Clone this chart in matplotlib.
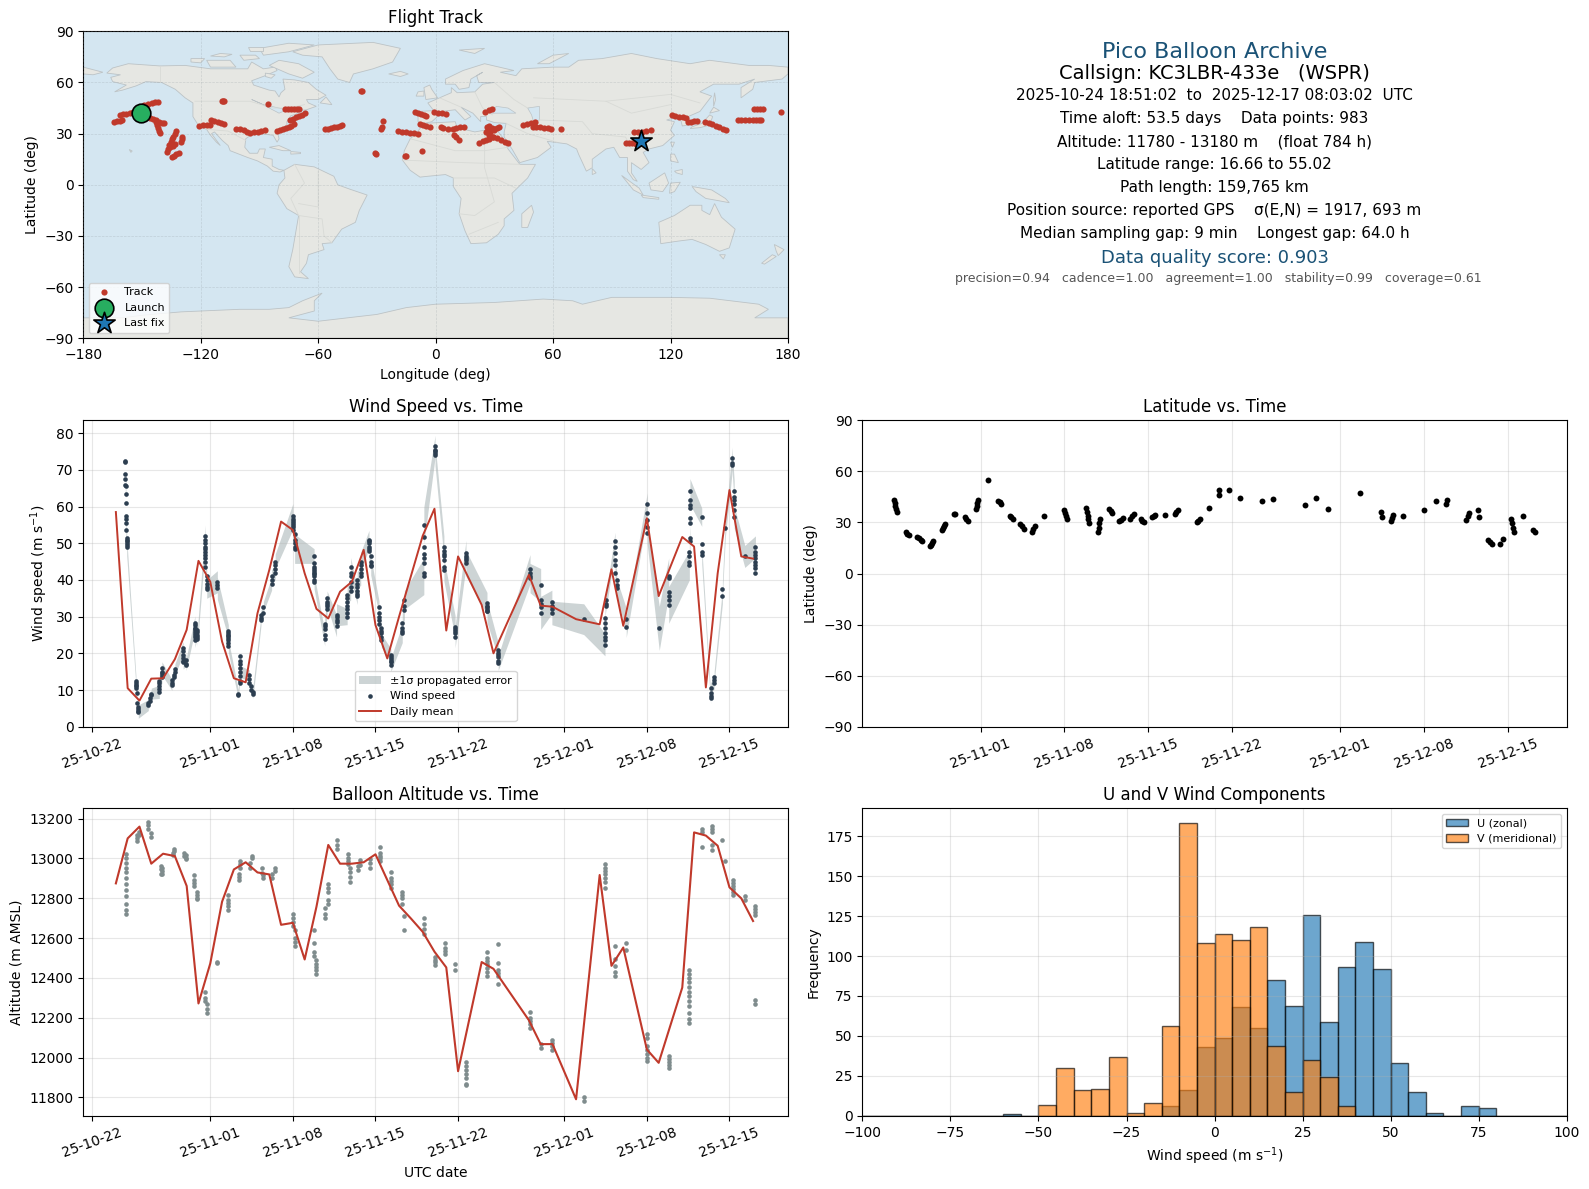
import matplotlib
matplotlib.use("Agg")
import matplotlib.pyplot as plt
import matplotlib.dates as mdates
import numpy as np

# all times are days after 2025-10-22
tick_dates = ["2025-10-22", "2025-11-01", "2025-11-08", "2025-11-15", "2025-11-22", "2025-12-01", "2025-12-08", "2025-12-15"]

# daily means
mean_days = [2, 3, 4, 5, 6, 7, 8, 9, 10, 11, 12, 13, 14, 15, 16, 17, 18, 19, 20, 21, 22, 23, 24, 25, 26, 27, 28, 29, 30, 31,
             33, 34, 37, 38, 39, 41, 43, 44, 45, 47, 48, 50, 51, 52, 53, 54, 55, 56]
mean_wind = [58.5, 10.5, 7.1, 13.1, 13.2, 18.4, 26.4, 45.2, 39.5, 23.2, 13.2, 12.1, 30.9, 42.7, 55.9, 53.6, 41.8, 32.1, 29.5, 36.8, 39.5, 48.2, 27.7, 18.6, 30, 41, 52, 59.4, 26.2, 46.4,
             33.2, 20, 41.4, 33, 32.7, 29.3, 27.9, 42.9, 27.5, 56.8, 35.6, 51.7, 49.1, 10.7, 41.8, 64.5, 46.4, 45.8]
mean_alt = [12875, 13101, 13160, 12974, 13024, 13012, 12862, 12272, 12473, 12783, 12945, 12981, 12930, 12920, 12667, 12677, 12493, 12758, 13068, 12974, 12974, 12981, 13021, 12892, 12763, 12699, 12632, 12532, 12453, 11932,
            12480, 12446, 12188, 12068, 12068, 11791, 12917, 12461, 12553, 12041, 11974, 12352, 13131, 13115, 13064, 12855, 12800, 12686]

# wind speed passes
wind_days = [2.80, 2.85, 2.92, 3.70, 3.80, 3.90, 4.75, 4.90, 5.00, 5.68, 5.90, 6.75, 6.90, 7.00, 7.70, 7.95, 8.70, 8.90, 9.57, 9.70, 10.60, 11.53,
             12.37, 12.50, 12.55, 13.30, 13.45, 13.60, 14.30, 14.50, 15.20, 15.50, 17.00, 17.15, 18.80, 19.70, 19.90, 20.70, 21.60, 21.90, 22.45, 22.75,
             23.45, 23.60, 24.30, 24.50, 25.30, 26.27, 26.45, 28.10, 29.05, 29.80, 30.75, 31.67, 33.45, 34.40, 37.10, 38.00, 38.95, 41.65, 43.45, 43.50,
             44.30, 44.45, 45.25, 47.03, 48.05, 48.85, 50.60, 50.65, 51.65, 52.40, 52.70, 53.40, 53.65, 54.25, 54.40, 55.30, 56.20]
wind_values = [[72.3, 72, 69, 67.5, 66], [65.5, 63.5, 61, 57.5, 56.5, 55.5, 53.5], [51.5, 51, 50.5, 50, 49.5, 49], [12.5, 12, 11.5, 11, 10.5], [9.1, 6.5], [5.5, 4.8, 4.3, 4.1],
               [5.9, 6.5], [7, 7.8], [8.6, 9], [9.5, 10.2, 11, 11.8, 12.5], [13.6, 14, 14.5, 15, 15.9], [11.4, 12, 12.7], [13.5, 14.2], [15, 15.6], [21.4, 20.5, 19.5, 18.7, 17.8, 17.5], [18.2, 17.2, 16.9],
               [28.2, 27.6, 27, 26.5, 26, 25.5, 25, 24.5, 23.6], [26.4, 25.7, 25, 24.5, 24], [52, 51, 50, 49, 48.5, 47.5, 46.7, 46, 45, 43.5], [41, 40, 39, 38, 37.5], [39.5, 38.5, 37.7], [26, 25.4, 25, 24.6, 24.2, 23.5, 22.7, 22],
               [9, 8.6], [13.8, 12.5, 12], [17, 16, 19.3, 18, 15], [14, 13, 12], [11, 10], [9.5, 9], [29, 29.5, 30.5], [31, 32.7], [39, 40, 41], [42, 43, 44, 45],
               [57.3, 56.5, 56, 55.5, 55, 54.5, 53.5], [52.5, 51, 50, 49, 48.5], [46.5, 44.5, 43.5, 43, 42.5, 42, 41.5, 41, 40, 39.5], [24, 25, 26.5, 27.5, 28], [32, 33, 33.5, 34, 35], [27.5, 28.5, 29, 30, 30.5],
               [30, 31, 32, 33, 34, 35, 36], [37, 38, 39.5, 41, 42, 43.6], [35.5, 36.2, 37, 38, 39, 40], [41, 42, 43, 44, 45], [51, 50.5, 50, 49, 48.5, 48], [46.4, 45, 44, 43.8], [32.5, 31, 30, 29, 28], [27, 26, 25.5, 24.5, 23.5],
               [19.5, 19, 18.5, 18, 17.5, 16.8], [25.4, 26, 27, 28.2], [31.7, 33, 34.5], [41, 42, 44.5, 46, 47, 49, 51.8, 54.9], [76.4, 75.5, 75, 74.5, 74.1], [49, 48, 47, 46.4, 45.5, 43.6, 42.7],
               [27.3, 26.6, 26, 25.5, 24.5], [47.3, 46.6, 46, 45.5, 44.5], [33.6, 33, 32.5, 32, 31.5, 31.4], [20.9, 20, 19.5, 19, 18, 17.3], [42.9, 42, 41, 40.5], [38.6, 34.5, 33.5, 32.5, 31], [34, 33, 32, 31], [29.3],
               [22.3, 23.6, 24.5, 25.5, 26.8, 28.2, 29.5], [34.4, 33.5, 33], [50.5, 49, 47.3, 45.5, 44, 42], [40, 38.6, 37.7], [29.3, 27.3], [60.7, 58.2, 56.4, 54.5, 52.7], [26.8], [41, 40.5, 36.8, 35.5, 34.5, 33.2],
               [44, 45, 46.4, 47.7], [51.4, 50.5, 55.5, 56.8, 59.5, 60.5, 61.8, 64.1], [57.1, 49.7, 47.7, 46.8], [7.7, 8.4, 9.1, 10.5], [11.8, 12.7, 13.6], [35.5, 37.5], [54.1], [73.2, 71.8, 71.4],
               [64.1, 62.7, 61.8, 60.7, 59.1, 57.1], [46.4], [49, 47.7, 46.8, 45.9, 45, 44, 43.2, 41.8]]
wind_sigma = [3.2, 3.0, 2.4, 1.4, 1.4, 1.8, 1.5, 1.5, 1.5, 1.8, 1.8, 1.5, 1.5, 1.5, 1.8, 1.6, 2.0, 2.0, 3.0, 2.5, 3.0, 1.8,
              1.2, 1.4, 1.6, 1.5, 1.5, 1.5, 1.4, 1.4, 1.8, 2.0, 3.5, 4.0, 2.0, 2.0, 2.0, 3.0, 2.2, 2.5, 2.2, 2.5,
              2.5, 2.5, 1.8, 1.8, 1.8, 2.5, 2.5, 5.0, 3.0, 3.0, 3.0, 3.5, 3.0, 2.0, 4.0, 4.5, 3.2, 4.2, 3.0, 2.0,
              2.5, 2.5, 3.0, 3.0, 6.0, 5.0, 4.0, 3.5, 2.5, 1.5, 1.5, 2.0, 2.5, 3.0, 3.0, 3.0, 3.0]

# altitude passes
alt_days = [2.82, 2.90, 3.75, 4.00, 4.75, 4.95, 5.80, 5.95, 6.80, 6.95, 7.75, 7.95, 8.65, 8.85, 9.55, 9.72, 10.60, 11.53, 12.40, 12.55, 13.35, 13.55, 14.35, 14.50, 15.25, 15.45,
            17.00, 17.15, 18.80, 18.95, 19.75, 19.95, 20.70, 21.65, 21.85, 22.50, 22.72, 23.50, 24.40, 25.30, 26.27, 26.45, 28.10, 29.05, 29.85, 30.75, 31.67,
            33.45, 34.35, 37.10, 38.00, 38.95, 41.65, 43.45, 44.30, 45.25, 47.03, 48.85, 50.60, 51.65, 52.50, 53.40, 53.65, 54.30, 55.30, 56.20]
alt_values = [[12720, 12740, 12770, 12810, 12840, 12870], [12900, 12930, 12950, 12975, 13000, 13025], [13090, 13105, 13118], [13120, 13135], [13185, 13170, 13150], [13130, 13110],
              [12962, 12945, 12920], [12920, 12935, 12950], [13020, 13030], [13040, 13046], [13030, 13010], [13020, 13000, 12995], [12917, 12890, 12875, 12860], [12830, 12815, 12800, 12795], [12330, 12300, 12285], [12270, 12245, 12225],
              [12473, 12480], [12816, 12790, 12775, 12760, 12740], [12890, 12905, 12920], [12950, 12970, 12985], [12950, 12975], [13000, 13015], [12950, 12925], [12915, 12900], [12900, 12920], [12935, 12950],
              [12720, 12700, 12680, 12660], [12640, 12600, 12580, 12560], [12640, 12575, 12530, 12510], [12490, 12470, 12455, 12440, 12420], [12700, 12720, 12750], [12770, 12790, 12830, 12850, 12870], [13093, 13070, 13050],
              [13023, 13000, 12985, 12970], [12950, 12930, 12905, 12880], [12940, 12960], [12965, 12990], [12950, 12975, 12995], [13060, 13030, 13015, 13000, 12985], [12850, 12870, 12885, 12900, 12930], [12830, 12815, 12800, 12770], [12710, 12640],
              [12700, 12670, 12645, 12620], [12505, 12490, 12480, 12465], [12575, 12550, 12535, 12520], [12470, 12440], [11980, 11960, 11940, 11920, 11900, 11870, 11865],
              [12530, 12500, 12485, 12470, 12450, 12430, 12410], [12570, 12475, 12440, 12425, 12410, 12370], [12230, 12200, 12185, 12170, 12150], [12070, 12050], [12090, 12075, 12060, 12040], [11800, 11780],
              [12970, 12950, 12935, 12920, 12900, 12880, 12850], [12560, 12495, 12460, 12430, 12410], [12575, 12540], [12120, 12100, 12060, 12040, 12020, 12000, 11985], [12010, 11995, 11980, 11965, 11950],
              [12440, 12420, 12400, 12380, 12355, 12330, 12310, 12285, 12260, 12225, 12195, 12175], [13150, 13135, 13060], [13165, 13150, 13135, 13070, 13045], [13095], [12987], [12890, 12875, 12860, 12845, 12830, 12815], [12810, 12790], [12762, 12745, 12730, 12715, 12290, 12270]]

# latitude passes
lat_days = [2.80, 2.85, 2.90, 2.95, 3.00, 3.75, 3.85, 4.00, 4.70, 4.85, 5.00, 5.10, 5.75, 5.85, 5.95, 6.05, 6.80, 6.87, 6.93, 7.00, 7.80, 7.90, 8.70, 8.80, 8.93, 9.60, 9.67, 9.73, 9.80, 10.60,
            11.50, 11.60, 11.70, 12.45, 12.55, 12.70, 13.30, 13.45, 13.60, 14.30, 14.40, 14.55, 15.30, 17.00, 17.07, 17.13, 17.20, 18.80, 18.87, 18.93, 19.00, 19.05, 19.80, 19.87, 19.93, 20.00, 20.70, 20.85, 21.00,
            21.55, 21.70, 21.90, 22.50, 22.65, 22.80, 23.40, 23.52, 23.65, 24.30, 24.45, 24.60, 25.40, 26.25, 26.35, 26.50, 28.05, 28.15, 28.30, 29.05, 29.88, 29.92, 30.75, 31.70, 33.50, 34.40, 37.10, 38.00, 39.00, 41.70,
            43.40, 43.50, 44.30, 44.38, 44.45, 45.25, 47.00, 48.05, 48.88, 48.92, 50.55, 50.67, 50.80, 51.55, 51.60, 52.40, 52.55, 52.70, 53.40, 53.60, 54.30, 54.37, 54.43, 54.50, 55.30, 56.15, 56.25]
lat_values = [42.9, 41.2, 39.5, 37.8, 36, 24.2, 23.4, 22.6, 21.6, 20.6, 19.7, 19, 16.1, 17, 18.2, 19.3, 25.6, 26.8, 27.9, 29, 35, 35.2, 33.4, 32.3, 30.9, 37.8, 39.5, 41.2, 42.9, 55,
              42.7, 41.9, 41, 33.8, 33, 32.3, 29.1, 27.7, 26.4, 24.6, 26.3, 28.1, 33.6, 37.4, 35.6, 33.7, 31.9, 38.4, 36.2, 34, 31.8, 29.5, 24.6, 27, 29.5, 32, 37.8, 36.6, 35.4,
              30.9, 31.7, 32.5, 31.9, 33.5, 35, 32, 31.1, 30.3, 32.9, 33.6, 34.4, 34.2, 35, 36.2, 37.4, 30.3, 31.1, 32, 38.2, 46.4, 48.8, 49, 44.5, 42.5, 44, 40.3, 44.5, 37.8, 47.2,
              36.4, 33.4, 30.9, 32.6, 34.2, 33.6, 37.4, 42.7, 40.7, 42.9, 31.5, 33.6, 35.8, 37.2, 33.4, 19.7, 18.5, 17.3, 17.1, 20, 31.9, 29.4, 27, 24.6, 33.6, 25.6, 24.6]

# histogram counts per 5 m/s bin, -100 to 100
bin_edges = list(range(-100, 105, 5))
u_counts = [0, 0, 0, 0, 0, 0, 0, 0, 1, 0, 0, 0, 0, 0, 0, 0, 0, 6, 16, 43, 49, 68, 55, 85, 69, 126, 59, 93, 109, 92, 33, 15, 2, 0, 6, 5, 0, 0, 0, 0]
v_counts = [0, 0, 0, 0, 0, 0, 0, 0, 0, 0, 7, 30, 16, 17, 37, 2, 8, 56, 183, 108, 114, 110, 118, 44, 15, 35, 24, 6, 0, 0, 0, 0, 0, 0, 0, 0, 0, 0, 0, 0]

# balloon positions on the map
track_lon = [-164.3, -163, -161.5, -160.4, -161.3, -159.5, -158, -156.3, -154.5, -149, -147, -145, -143.3, -141.7, -146, -144.5, -143, -141.5, -140, -139, -142.9, -142.4, -142, -141.4, -140.9,
             -132.7, -133.3, -134, -134.7, -135.3, -136, -137.4, -136.5, -135.5, -134.4, -133.2, -129.6, -129.8, -130, -134.9, -133.8, -132.5, -131,
             -120.8, -119, -117, -115.3, -114.8, -113, -111, -109.5, -108.2, -109.2, -108.7, -108, -102, -100, -98, -96.5, -94.9, -93, -91, -89, -87.2, -85.9,
             -81.3, -79.5, -78, -76.5, -75, -73.7, -72.4, -74.5, -73, -71.5, -70, -68.5, -66.8, -77, -75.5, -74, -72.5, -71, -69.7, -38.3, -37.5,
             -56.6, -55, -53.5, -52, -50.5, -49, -47.7, -26.8, -27.7, -27.3, -31, -30.4, -15.8, -15, -19, -17, -15, -13, -11, -8.9, -10.6, -9, -7.5, -6, -5, -8, -6.5, -5, -3, -7.2,
             -0.7, 1, 3, 5.3, 2.7, 4, 6.1, 8.7, 10.5, 12.5, 14.7, 9.5, 10.5, 12.1, 25.4, 27, 28.8,
             25.7, 27, 28.5, 30, 31.5, 32.5, 26, 27.5, 29, 30, 26.5, 28, 27.4, 29.5, 31.5, 33.5, 35.5, 36.8, 22.3, 24, 25.5, 27, 29.1,
             44.8, 46.5, 48.5, 50.9, 49.6, 51.5, 53.5, 55.5, 57.5, 59, 64.2, 97.3, 99, 100.5, 102.4, 101.5, 103.5, 105.5, 107.5, 110,
             120.8, 122.5, 124.5, 126.3, 127.9, 128.8, 130.5, 132, 133.6, 137.8, 139.5, 141, 143, 145, 146.8, 148.4, 154.3, 156, 157.8, 160, 162, 163.5, 165, 166.3, 162.4, 164, 165.5, 167.1, 176.3]
track_lat = [37, 37.3, 37.6, 37.9, 40.9, 41.4, 41.8, 42.3, 42.8, 46.8, 47.3, 47.8, 48.3, 48.7, 39.3, 38.6, 37.9, 37.1, 36.4, 36, 37, 35.3, 33.5, 31.8, 30.1,
             31.7, 30, 28.3, 26.6, 25, 23.3, 19.4, 20.7, 21.9, 23, 24.2, 28.2, 26.7, 25.2, 16.4, 17, 17.8, 18.8,
             34.6, 34.8, 34.9, 35, 37.9, 37.4, 36.8, 36.2, 35.6, 49.1, 49.1, 49.1, 33, 32.5, 31.9, 31.2, 30.5, 30.7, 31, 31.6, 32, 47.1,
             31.7, 32.2, 32.8, 33.4, 33.9, 34.7, 35.4, 38, 38.8, 39.6, 40.4, 41.2, 42.3, 44.2, 44.2, 44.2, 44.2, 44.2, 44.2, 54.8, 54.8,
             32.5, 32.9, 33.2, 33.6, 34, 34.4, 34.8, 37.2, 33.0, 33.8, 18.8, 18, 16.6, 16.6, 31.3, 31, 30.7, 30.4, 30.2, 29.9, 42.4, 42, 41.5, 41, 40.5, 35.6, 35.1, 34.6, 33.6, 19.6,
             42.4, 42.2, 41.9, 41.5, 34, 33.2, 32.5, 33, 33.2, 33.6, 34, 29.1, 27.8, 26.2, 42.8, 43.6, 44.2,
             31.1, 31.6, 32, 32.7, 33.2, 33.6, 33.8, 34.2, 33.4, 32, 32.4, 31, 29.1, 28.2, 27.4, 26.5, 25.3, 24.6, 24.8, 25.4, 26, 26.6, 27.8,
             35, 35.6, 36.2, 37, 34, 33.8, 33.6, 33.4, 33.1, 32.9, 33, 24.6, 24.5, 24.4, 24.2, 30.7, 31, 31.2, 31.5, 31.9,
             40.7, 40.4, 40, 39.5, 39.1, 36.6, 36.9, 37.2, 37.6, 37, 36.3, 35.6, 34.6, 33.8, 33, 32.1, 37.8, 37.8, 37.8, 37.8, 37.8, 37.8, 37.8, 37.9, 44.2, 44.2, 44.2, 44.2, 42.4]
launch_lon, launch_lat = -150.6, 42.0
last_lon, last_lat = 104.8, 25.6

# coarse land outlines as (lon, lat)
land_shapes = [
    [(-168, 65.5), (-165, 68.5), (-157, 71), (-141, 69.7), (-128, 70), (-115, 68), (-108, 68), (-96, 68), (-94, 72), (-88, 68), (-82, 69), (-81, 67), (-87, 64), (-94, 61), (-93, 58.5), (-85, 55.5), (-82, 55), (-80, 51.5), (-79, 54), (-77, 56), (-78, 62), (-72, 61.5), (-65, 60), (-61, 56), (-56, 52.5), (-60, 50), (-66, 50), (-65, 48), (-61, 46), (-66, 44), (-70, 43.5), (-71, 41.5), (-74, 40.5), (-76, 37), (-76, 35), (-81, 31.5), (-80, 27), (-81, 25), (-83, 29), (-89, 30), (-94, 29.5), (-97, 27), (-97.5, 22), (-95, 18.5), (-91, 18.5), (-90, 21), (-87, 21), (-88, 16), (-83.5, 15), (-83.5, 11), (-80, 9), (-77.5, 8.5), (-79.5, 7.5), (-83, 8), (-86, 11), (-91, 14), (-96, 16), (-105, 20), (-106, 23), (-109, 26), (-113, 31), (-114.5, 30), (-110, 23), (-112, 25), (-115, 29), (-117, 32.5), (-121, 34.5), (-124, 40), (-124, 48), (-128, 51), (-133, 56), (-140, 60), (-148, 60.5), (-153, 58), (-160, 55.5), (-164, 54.5), (-158, 58.5), (-165, 60.5), (-166, 63), (-161, 64.5)],
    [(-73, 78), (-60, 82), (-32, 83.5), (-18, 80), (-22, 72), (-32, 68), (-42, 65), (-44, 60), (-50, 62), (-54, 68), (-58, 75), (-68, 76)],
    [(-80, 73), (-70, 71), (-62, 66), (-68, 62.5), (-75, 65), (-85, 70)],
    [(-117, 73), (-105, 73), (-102, 69), (-115, 69)],
    [(-90, 80), (-75, 83), (-62, 82), (-75, 78), (-88, 76)],
    [(-125, 74), (-118, 74), (-120, 71.5), (-125, 72)],
    [(-100, 76), (-92, 76), (-90, 74), (-98, 73)],
    [(-110, 77), (-104, 76.5), (-108, 75), (-115, 75.5)],
    [(-96, 81), (-88, 81), (-88, 78.5), (-95, 78.5)],
    [(-87, 65.5), (-82, 64.5), (-84, 62.5), (-87, 63.5)],
    [(-59, 48), (-53, 47), (-56, 51.5)],
    [(-85, 22), (-80, 23), (-74, 20), (-78, 20)],
    [(-74, 19.5), (-69, 19), (-69, 18.3), (-74, 18)],
    [(-156.5, 20.7), (-155, 19.8), (-155.7, 19)],
    [(-77.5, 8.5), (-72, 12), (-62, 10.5), (-52, 5), (-50, 0), (-44, -2.5), (-35, -6), (-39, -15), (-41, -22), (-48, -26), (-53, -34), (-58, -34.5), (-57, -38), (-65, -41), (-66, -46), (-69, -51), (-65, -55), (-72, -54), (-75, -48), (-73, -38), (-70, -18), (-76, -14), (-81, -5), (-80, 0), (-77, 4)],
    [(-6, 36), (10, 37), (11, 33.5), (20, 31), (25, 32), (32, 31), (34, 28), (37, 21), (43, 12), (51, 12), (47, 4), (39, -5), (40, -15), (35, -20), (35, -24), (32, -29), (26, -34), (18, -34.5), (15, -27), (12, -17), (13, -8), (9, -1), (9, 4), (5, 6), (-4, 5), (-8, 4.5), (-13, 8.5), (-17, 14.5), (-16, 20), (-13, 27), (-10, 30)],
    [(-9, 37), (-9, 43), (-1, 43.5), (-4, 48), (2, 51), (8, 54), (8, 57), (11, 54), (20, 54.5), (24, 59), (30, 60), (22, 60), (21, 64), (24, 66), (18, 62), (17, 57), (12, 56), (10, 59), (5, 59), (5, 62), (14, 67), (25, 71), (40, 67), (33, 66), (41, 64), (44, 68), (60, 69), (68, 69), (73, 73), (85, 74), (100, 77), (113, 74), (130, 71), (140, 73), (160, 70), (170, 70), (180, 69), (180, 65), (177, 62), (163, 60), (162, 56), (156, 51), (156, 57), (163, 62), (155, 59), (142, 59), (135, 54.5), (141, 52), (135, 43), (129, 40), (129, 35), (126, 34.5), (125, 39), (121, 39), (118, 38), (122, 37), (120, 32), (122, 29), (116, 23), (109, 21), (106, 19), (109, 13), (105, 9), (100, 13), (100, 7), (103, 2), (101, 3), (98, 8), (98, 16), (94, 16), (91, 22), (87, 21), (80, 15), (80, 10), (77, 8), (73, 18), (72, 21), (67, 24), (57, 25.5), (59, 22), (52, 16), (43, 13), (39, 21), (35, 28), (35, 31), (36, 36), (30, 36.5), (26, 38), (26, 40), (23, 40), (23, 37), (19, 42), (13, 45.5), (18, 40), (15, 38), (10, 44), (3, 43), (0, 39), (-2, 37), (-6, 36)],
    [(-180, 69), (-170, 66), (-175, 64.5), (-180, 65)],
    [(-5, 50), (1, 51), (-2, 56), (-3, 58.5), (-6, 57)],
    [(-10, 52), (-6, 52), (-6, 55), (-9, 54.5)],
    [(-24, 65), (-18, 66.5), (-14, 65), (-18, 63.5)],
    [(12, 79), (25, 80), (20, 77)],
    [(52, 71), (58, 71), (68, 77), (60, 76)],
    [(130, 33), (135, 33.5), (140, 35), (141.5, 40), (140, 41), (136, 36), (131, 34)],
    [(140, 42), (145, 43.5), (142, 45.5)],
    [(142, 46), (143, 50), (142.5, 54), (142, 50)],
    [(120, 25), (122, 25), (121, 22)],
    [(120, 18), (122, 18), (124, 13), (120, 14)],
    [(122, 8), (126, 9), (126, 6), (123, 7)],
    [(109, 1), (117, 7), (119, 1), (116, -4), (110, -3)],
    [(95, 5.5), (104, -2), (106, -6), (101, -3)],
    [(105, -6), (114, -7.5), (114, -8.5), (106, -7.5)],
    [(119.5, -5), (120, 1), (125, 1.5), (122, -4)],
    [(131, -1), (141, -3), (148, -8), (150, -10.5), (143, -9), (138, -8), (133, -4)],
    [(114, -22), (122, -18), (130, -12), (136, -12), (136, -15), (140, -17.5), (142.5, -11), (146, -19), (153, -26), (150, -37), (145, -39), (138, -35), (131, -32), (124, -33), (115, -34.5)],
    [(145, -41), (148, -41), (147, -43.5)],
    [(173, -35), (178, -38), (175, -41.5), (174, -39)],
    [(172, -41), (174, -42), (168, -46.5), (166.5, -46)],
    [(49, -12), (50, -16), (47, -25), (44, -25), (44, -17)],
    [(80, 9.5), (82, 7), (80, 6)],
    [(-180, -90), (-180, -78), (-160, -78), (-150, -76.5), (-130, -74.5), (-100, -73), (-85, -73), (-75, -72), (-68, -68), (-58, -63.5), (-62, -68), (-62, -74), (-75, -78), (-60, -80), (-45, -78), (-30, -76), (-15, -72), (0, -70), (30, -69), (55, -67), (70, -68), (75, -70), (90, -66), (120, -66), (140, -66.5), (165, -70), (170, -73), (163, -78), (180, -78), (180, -90)],
]
inland_seas = [
    [(28, 42), (31, 46), (37, 45), (41, 42), (35, 42)],
    [(47, 45), (53, 46), (53, 38), (50, 37), (49, 41)],
    [(-94, 50), (-90, 48), (-80, 42), (-76, 44), (-84, 46), (-88, 47)],
]
border_lines = [
    [(-141, 69.7), (-141, 60)], [(-123, 49), (-95, 49), (-83, 45), (-75, 45), (-67, 47)], [(-117, 32.5), (-106, 31.5), (-97, 26)],
    [(-70, -18), (-58, -20), (-57, -30), (-53, -34)], [(-72, 12), (-67, 1), (-74, -8), (-70, -18)], [(-60, 8), (-60, -13), (-70, -11)], [(-70, -18), (-70, -52)],
    [(-13, 27), (10, 20), (25, 20), (37, 22)], [(-17, 14.5), (14, 13), (43, 12)], [(25, 32), (25, 10), (30, -10), (20, -18), (12, -17)], [(9, 4), (30, 4), (41, -2)], [(17, -29), (32, -22)],
    [(2, 51), (8, 48), (13, 45.5)], [(20, 54.5), (24, 45), (29, 41)], [(30, 60), (40, 50), (47, 45)], [(50, 51), (87, 49), (120, 53), (135, 48)], [(53, 38), (75, 37), (80, 30), (97, 28), (100, 21), (106, 21)], [(36, 36), (47, 30), (62, 25)], [(87, 49), (100, 42), (120, 47)],
]

info_lines = ["Pico Balloon Archive", "Callsign: KC3LBR-433e   (WSPR)", "2025-10-24 18:51:02  to  2025-12-17 08:03:02  UTC", "Time aloft: 53.5 days    Data points: 983",
              "Altitude: 11780 - 13180 m    (float 784 h)", "Latitude range: 16.66 to 55.02", "Path length: 159,765 km", "Position source: reported GPS    σ(E,N) = 1917, 693 m",
              "Median sampling gap: 9 min    Longest gap: 64.0 h", "Data quality score: 0.903", "precision=0.94   cadence=1.00   agreement=1.00   stability=0.99   coverage=0.61"]
info_px = [52, 73.8, 95.2, 118.9, 141.5, 164.5, 187.9, 210.8, 233.8, 258.4, 278.9]
info_size = [16, 14, 11, 11, 11, 11, 11, 11, 11, 13, 9]
info_color = ["#1a5276", "black", "black", "black", "black", "black", "black", "black", "black", "#1a5276", "#555555"]
info_shift = [0, 0, 0, 0, 0, 0, 0, 0, 0, 0, 4]

W, H = 1589, 1189
RED = "#c0392b"


def panel(x0, x1, y0, y1):
    return fig.add_axes([x0 / W, 1 - y1 / H, (x1 - x0) / W, (y1 - y0) / H])


def to_dates(days):
    return mdates.date2num(np.datetime64("2025-10-22")) + np.asarray(days, dtype=float)


def date_axis(ax, d0, d1):
    ax.xaxis_date()
    ax.set_xticks(mdates.date2num(np.array(tick_dates, dtype="datetime64[D]")))
    ax.xaxis.set_major_formatter(mdates.DateFormatter("%y-%m-%d"))
    plt.setp(ax.get_xticklabels(), rotation=20, ha="center")
    ax.set_xlim(to_dates(d0), to_dates(d1))
    ax.grid(True, alpha=0.3)


fig = plt.figure(figsize=(W / 100, H / 100), dpi=100)

#map
ax = panel(83.3, 788, 31.3, 338.3)
ax.set_facecolor("#d4e6f1")
for shape in land_shapes:
    ax.fill(*zip(*shape), facecolor="#e6e7e3", edgecolor="#bcc3c6", linewidth=0.6, zorder=1)
for shape in inland_seas:
    ax.fill(*zip(*shape), facecolor="#d4e6f1", edgecolor="#bcc3c6", linewidth=0.5, zorder=1.1)
for line in border_lines:
    ax.plot(*zip(*line), color="#d8dad6", linewidth=0.6, zorder=1.2)
ax.grid(True, color="#8a9499", alpha=0.28, linestyle="--", linewidth=0.5, zorder=1.5)
ax.set_axisbelow(False)
ax.scatter(track_lon, track_lat, s=20, color=RED, linewidths=0, zorder=3, label="Track")
ax.scatter([launch_lon], [launch_lat], s=180, color="#27ae60", edgecolors="black", linewidths=1.2, zorder=4, label="Launch")
ax.scatter([last_lon], [last_lat], s=260, marker="*", color="#1f77b4", edgecolors="black", linewidths=1.2, zorder=4, label="Last fix")
ax.set_xlim(-180, 180)
ax.set_ylim(-90, 90)
ax.set_xticks(range(-180, 181, 60))
ax.set_yticks(range(-90, 91, 30))
ax.set_xlabel("Longitude (deg)")
ax.set_ylabel("Latitude (deg)")
ax.set_title("Flight Track")
ax.legend(loc="lower left", fontsize=8, framealpha=0.8)

#summary text
ax = panel(862.4, 1566.7, 31.3, 338.3)
ax.axis("off")
for line, py, size, col, dx in zip(info_lines, info_px, info_size, info_color, info_shift):
    ax.text(0.5 + dx / 704.3, 1 - (py - 31.3) / 307, line, fontsize=size, color=col, ha="center", va="center", transform=ax.transAxes)

#wind
ax = panel(83.3, 788, 420.3, 726.7)
wind_t = to_dates(np.repeat(wind_days, [len(v) for v in wind_values]))
wind_v = np.concatenate(wind_values)
wind_e = np.repeat(wind_sigma, [len(v) for v in wind_values])
ax.fill_between(wind_t, wind_v - wind_e, wind_v + wind_e, color="#708587", alpha=0.35, linewidth=0, label="±1σ propagated error")
ax.scatter(wind_t, wind_v, s=11, color="#2c3e50", linewidths=0, zorder=3, label="Wind speed")
ax.plot(to_dates(mean_days), mean_wind, color=RED, linewidth=1.4, zorder=4, label="Daily mean")
ax.set_ylim(0, 83.5)
ax.set_yticks(range(0, 81, 10))
date_axis(ax, -0.76, 58.96)
ax.set_ylabel("Wind speed (m s$^{-1}$)")
ax.set_title("Wind Speed vs. Time")
ax.legend(loc="lower center", fontsize=8)

#latitude
ax = panel(862.4, 1566.7, 420.3, 726.7)
ax.scatter(to_dates(lat_days), lat_values, s=18, color="black", linewidths=0, zorder=3)
ax.set_ylim(-90, 90)
ax.set_yticks(range(-90, 91, 30))
date_axis(ax, 0.14, 58.93)
ax.set_ylabel("Latitude (deg)")
ax.set_title("Latitude vs. Time")

#altitude
ax = panel(83.3, 788, 808.3, 1115.8)
alt_t = to_dates(np.repeat(alt_days, [len(v) for v in alt_values]))
ax.scatter(alt_t, np.concatenate(alt_values), s=11, color="#7f8c8d", linewidths=0, zorder=3)
ax.plot(to_dates(mean_days), mean_alt, color=RED, linewidth=1.5, zorder=4)
ax.set_ylim(11708, 13252)
ax.set_yticks(range(11800, 13201, 200))
date_axis(ax, -0.76, 58.96)
ax.set_xlabel("UTC date")
ax.set_ylabel("Altitude (m AMSL)")
ax.set_title("Balloon Altitude vs. Time")

#histogram
ax = panel(862.4, 1566.7, 808.3, 1115.8)
centers = np.array(bin_edges[:-1]) + 2.5
ax.hist(centers, bins=bin_edges, weights=u_counts, color="#1f77b4", alpha=0.65, edgecolor="black", label="U (zonal)")
ax.hist(centers, bins=bin_edges, weights=v_counts, color="#ff7f0e", alpha=0.65, edgecolor="black", label="V (meridional)")
ax.set_xlim(-100, 100)
ax.set_ylim(0, 192.5)
ax.set_xticks(range(-100, 101, 25))
ax.set_yticks(range(0, 176, 25))
ax.grid(True, alpha=0.3)
ax.set_xlabel("Wind speed (m s$^{-1}$)")
ax.set_ylabel("Frequency")
ax.set_title("U and V Wind Components")
ax.legend(loc="upper right", fontsize=8)

fig.savefig("out.png", dpi=100)
